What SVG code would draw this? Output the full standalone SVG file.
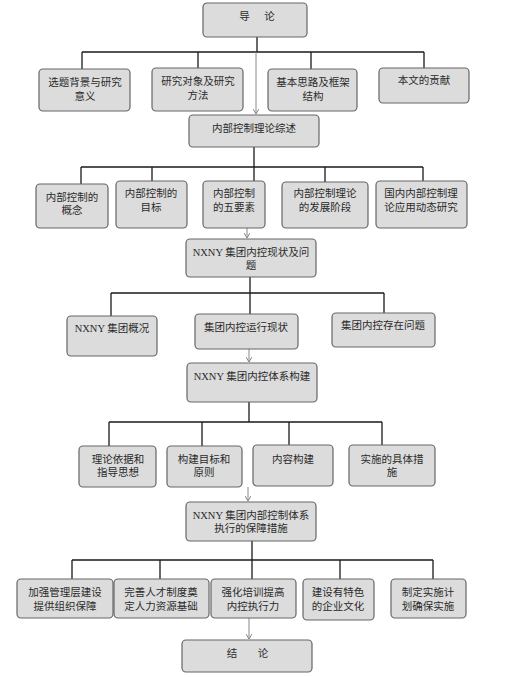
<svg xmlns="http://www.w3.org/2000/svg" width="505" height="677" viewBox="0 0 505 677">
<defs>
<style>
.bx{fill:#dcdcdc;stroke:#666;stroke-width:1.2}
.t{font-family:"Liberation Serif","Noto Sans CJK SC",serif;font-size:10.5px;fill:#2a2a2a;text-anchor:middle}
.ln{stroke:#1a1a1a;stroke-width:1.3;fill:none}
.ar{stroke:#888;stroke-width:1;fill:none;marker-end:url(#ah)}
</style>
<marker id="ah" markerWidth="6" markerHeight="6" refX="5" refY="3" orient="auto" markerUnits="userSpaceOnUse">
<path d="M0,0 L5,3 L0,6" fill="none" stroke="#888" stroke-width="1"/>
</marker>
</defs>
<rect width="505" height="677" fill="#fff"/>
<g id="connectors">
<path class="ln" d="M257,37V52M82,52H424M82,52V69M198,52V68M311,52V69M424,52V68"/>
<path class="ar" d="M256,52V114"/>
<path class="ln" d="M254,147V167M81,167H423M81,167V184M152,167V181M254,167V181M325,167V182M423,167V181"/>
<path class="ar" d="M247,228V238"/>
<path class="ln" d="M250,277V293M111,293H384M111,293V316M250,293V314M384,293V313"/>
<path class="ar" d="M249,349V362"/>
<path class="ln" d="M249,402V422M109,422H382M109,422V446M202,422V446M289,422V445M382,422V445"/>
<path class="ar" d="M248,487V501"/>
<path class="ln" d="M252,541V560M72,560H433M72,560V579M160,560V579M252,560V579M340,560V579M433,560V579"/>
<path class="ar" d="M249,618V639"/>
</g>
<g id="n0"><rect class="bx" x="203" y="3" width="104" height="34" rx="4"/><text class="t" x="258" y="20" style="letter-spacing:2px">导　论</text></g>
<g id="n1"><rect class="bx" x="39" y="69" width="91" height="42" rx="4"/><text class="t" x="85" y="86">选题背景与研究</text><text class="t" x="85" y="100">意义</text></g>
<g id="n2"><rect class="bx" x="152" y="68" width="91" height="43" rx="4"/><text class="t" x="198" y="85">研究对象及研究</text><text class="t" x="198" y="99">方法</text></g>
<g id="n3"><rect class="bx" x="268" y="69" width="89" height="42" rx="4"/><text class="t" x="313" y="86">基本思路及框架</text><text class="t" x="313" y="100">结构</text></g>
<g id="n4"><rect class="bx" x="379" y="68" width="90" height="35" rx="4"/><text class="t" x="424" y="84">本文的贡献</text></g>
<g id="n5"><rect class="bx" x="189" y="115" width="130" height="32" rx="4"/><text class="t" x="254" y="132">内部控制理论综述</text></g>
<g id="n6"><rect class="bx" x="36" y="184" width="72" height="44" rx="4"/><text class="t" x="72" y="201">内部控制的</text><text class="t" x="72" y="214">概念</text></g>
<g id="n7"><rect class="bx" x="116" y="181" width="71" height="47" rx="4"/><text class="t" x="151" y="197">内部控制的</text><text class="t" x="151" y="211">目标</text></g>
<g id="n8"><rect class="bx" x="203" y="181" width="62" height="47" rx="4"/><text class="t" x="234" y="197">内部控制</text><text class="t" x="234" y="211">的五要素</text></g>
<g id="n9"><rect class="bx" x="282" y="182" width="86" height="46" rx="4"/><text class="t" x="325" y="197">内部控制理论</text><text class="t" x="325" y="211">的发展阶段</text></g>
<g id="n10"><rect class="bx" x="376" y="181" width="91" height="47" rx="4"/><text class="t" x="421" y="197">国内内部控制理</text><text class="t" x="421" y="211">论应用动态研究</text></g>
<g id="n11"><rect class="bx" x="186" y="239" width="130" height="38" rx="4"/><text class="t" x="251" y="256">NXNY 集团内控现状及问</text><text class="t" x="251" y="269">题</text></g>
<g id="n12"><rect class="bx" x="67" y="316" width="90" height="40" rx="4"/><text class="t" x="112" y="332">NXNY 集团概况</text></g>
<g id="n13"><rect class="bx" x="195" y="314" width="103" height="35" rx="4"/><text class="t" x="246" y="331">集团内控运行现状</text></g>
<g id="n14"><rect class="bx" x="332" y="313" width="103" height="34" rx="4"/><text class="t" x="383" y="329">集团内控存在问题</text></g>
<g id="n15"><rect class="bx" x="187" y="363" width="130" height="39" rx="4"/><text class="t" x="252" y="380">NXNY 集团内控体系构建</text></g>
<g id="n16"><rect class="bx" x="79" y="446" width="77" height="41" rx="4"/><text class="t" x="118" y="463">理论依据和</text><text class="t" x="118" y="476">指导思想</text></g>
<g id="n17"><rect class="bx" x="167" y="446" width="75" height="41" rx="4"/><text class="t" x="204" y="463">构建目标和</text><text class="t" x="204" y="476">原则</text></g>
<g id="n18"><rect class="bx" x="253" y="445" width="80" height="41" rx="4"/><text class="t" x="293" y="463">内容构建</text></g>
<g id="n19"><rect class="bx" x="349" y="445" width="86" height="41" rx="4"/><text class="t" x="392" y="463">实施的具体措</text><text class="t" x="392" y="476">施</text></g>
<g id="n20"><rect class="bx" x="186" y="502" width="130" height="39" rx="4"/><text class="t" x="251" y="519">NXNY 集团内部控制体系</text><text class="t" x="251" y="532">执行的保障措施</text></g>
<g id="n21"><rect class="bx" x="17" y="579" width="96" height="39" rx="4"/><text class="t" x="65" y="596">加强管理层建设</text><text class="t" x="65" y="610">提供组织保障</text></g>
<g id="n22"><rect class="bx" x="114" y="579" width="95" height="39" rx="4"/><text class="t" x="161" y="596">完善人才制度奠</text><text class="t" x="161" y="610">定人力资源基础</text></g>
<g id="n23"><rect class="bx" x="211" y="579" width="85" height="39" rx="4"/><text class="t" x="253" y="596">强化培训提高</text><text class="t" x="253" y="610">内控执行力</text></g>
<g id="n24"><rect class="bx" x="303" y="579" width="71" height="41" rx="4"/><text class="t" x="338" y="596">建设有特色</text><text class="t" x="338" y="610">的企业文化</text></g>
<g id="n25"><rect class="bx" x="391" y="579" width="75" height="39" rx="4"/><text class="t" x="428" y="596">制定实施计</text><text class="t" x="428" y="610">划确保实施</text></g>
<g id="n26"><rect class="bx" x="182" y="640" width="130" height="32" rx="4"/><text class="t" x="250" y="657" style="letter-spacing:5px">结　论</text></g>
</svg>
